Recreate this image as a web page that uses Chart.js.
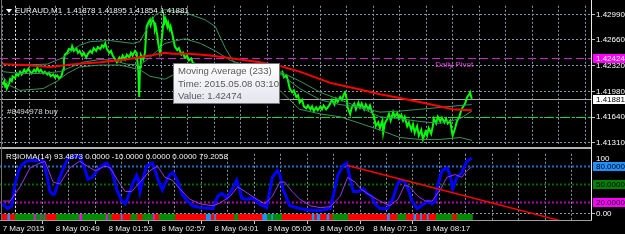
<!DOCTYPE html>
<html>
<head>
<meta charset="utf-8">
<title>EURAUD,M1</title>
<script src="https://cdn.jsdelivr.net/npm/chart.js@4.4.1/dist/chart.umd.min.js"></script>
<style>
  html, body { margin: 0; padding: 0; background: #fff; }
  #terminal { position: relative; width: 625px; height: 234px; background: #000; overflow: hidden;
              font-family: "Liberation Sans", Arial, sans-serif; }
  canvas { position: absolute; left: 0; }
  #priceCanvas { top: 0; }
  #rsiCanvas { top: 148px; }
  .caption { position: absolute; color: #f2f2f2; font-size: 8px; line-height: 9px; white-space: pre; }
  #symbolCaption { left: 15px; top: 6px; }
  #rsiCaption { left: 6px; top: 152px; }
  .arrow { position: absolute; left: 6px; top: 9px; width: 0; height: 0;
           border-left: 3px solid transparent; border-right: 3px solid transparent; border-top: 4px solid #fff; }
  .separator { position: absolute; left: 0; top: 147px; width: 592px; height: 2px; background: #b4b4b4; }
  .frameRight { position: absolute; left: 591px; top: 0; width: 1px; height: 221px; background: #e8e8e8; }
  .frameLeft { position: absolute; left: 1px; top: 0; width: 1px; height: 221px; background: #6e6e6e; }
  .frameBottom { position: absolute; left: 0; top: 220px; width: 592px; height: 1px; background: #a0a0a0; }
  #hint { position: absolute; left: 173px; top: 63px; width: 107px; height: 41px; box-sizing: border-box;
          padding: 1px 0 0 4px; border: 1px solid #767676; color: #585858;
          background: linear-gradient(#ffffff, #e4e5ee); box-shadow: 2px 2px 2px rgba(0,0,0,0.4);
          font-size: 9.6px; line-height: 12.5px; white-space: pre; }
</style>
</head>
<body>
<div id="terminal">
  <canvas id="priceCanvas" width="625" height="150"></canvas>
  <canvas id="rsiCanvas" width="625" height="86"></canvas>
  <div class="separator"></div>
  <div class="frameLeft"></div>
  <div class="frameRight"></div>
  <div class="frameBottom"></div>
  <div class="arrow"></div>
  <div class="caption" id="symbolCaption">EURAUD,M1  1.41878 1.41895 1.41854 1.41881</div>
  <div class="caption" id="rsiCaption">RSIOMA(14) 93.4873 0.0000 -10.0000 0.0000 0.0000 79.2058</div>
  <div id="hint">Moving Average (233)
Time: 2015.05.08 03:10
Value: 1.42474</div>
</div>

<script>
// time axis: minutes from 8 May 2015 00:00, M1 bars
const gridTimes = [-15, 17, 49, 81, 113, 145, 177, 209, 241, 273, 305, 337, 369, 401, 433, 465, 497, 529, 561, 593, 625, 657, 689];
const timeLabels = ['7 May 2015', '', '8 May 00:49', '', '8 May 01:53', '', '8 May 02:57', '', '8 May 04:01', '',
  '8 May 05:05', '', '8 May 06:09', '', '8 May 07:13', '', '8 May 08:17', '', '', '', '', '', ''];
const daySeparator = 0;

const priceTicks = [1.42990, 1.42660, 1.42320, 1.41980, 1.41640, 1.41310];
const dailyPivot = 1.42424;
const bidPrice = 1.41881;
const buyOrderPrice = 1.41640;
const pivotLabelTime = 508;

// close line [minute, price]
const closeLine = [
  [-15,1.42066],[-13,1.42116],[-12,1.42041],[-11,1.42091],[-10,1.42017],[-7,1.42091],[-6,1.42140],[-4,1.42116],[-3,1.42178],[0,1.42153],
  [2,1.42215],[4,1.42190],[6,1.42239],[8,1.42202],[11,1.42264],[13,1.42227],[16,1.42277],[18,1.42239],[20,1.42215],[23,1.42264],
  [25,1.42239],[27,1.42289],[29,1.42239],[31,1.42264],[34,1.42215],[36,1.42239],[39,1.42202],[41,1.42227],[43,1.42178],[46,1.42202],
  [48,1.42165],[51,1.42190],[53,1.42153],[56,1.42178],[58,1.42264],[59,1.42388],[60,1.42462],[63,1.42487],[65,1.42536],[68,1.42524],
  [69,1.42573],[71,1.42512],[74,1.42549],[76,1.42487],[78,1.42512],[81,1.42450],[83,1.42487],[86,1.42425],[88,1.42474],[91,1.42512],
  [93,1.42487],[95,1.42549],[98,1.42512],[100,1.42561],[103,1.42536],[105,1.42586],[107,1.42561],[109,1.42610],[111,1.42536],[114,1.42487],
  [116,1.42512],[118,1.42450],[121,1.42400],[123,1.42363],[126,1.42425],[128,1.42388],[130,1.42450],[133,1.42400],[135,1.42462],[138,1.42425],
  [140,1.42487],[142,1.42450],[145,1.42512],[147,1.42487],[149,1.42239],[150,1.41905],[151,1.42301],[152,1.42462],[155,1.42400],[157,1.42487],
  [158,1.42672],[159,1.42833],[161,1.42882],[163,1.42919],[164,1.42858],[166,1.42932],[168,1.42882],[169,1.42796],[170,1.42833],[172,1.42709],
  [173,1.42610],[175,1.42487],[176,1.42549],[178,1.42734],[179,1.42858],[180,1.42944],[181,1.42895],[182,1.42932],[184,1.42833],[185,1.42882],
  [187,1.42796],[188,1.42833],[190,1.42734],[192,1.42635],[193,1.42573],[196,1.42524],[198,1.42549],[201,1.42462],[203,1.42487],[205,1.42425],
  [208,1.42450],[210,1.42388],[213,1.42413],[215,1.42351],[219,1.42338],[224,1.42289],[236,1.42301],[248,1.42264],[260,1.42289],[272,1.42239],
  [284,1.42264],[296,1.42215],[308,1.42264],[318,1.42239],[320,1.42202],[323,1.42239],[325,1.42165],[328,1.42190],[330,1.42116],[332,1.42017],
  [335,1.41967],[337,1.41992],[340,1.41905],[342,1.41930],[344,1.41831],[347,1.41868],[349,1.41782],[352,1.41757],[354,1.41794],[357,1.41744],
  [359,1.41782],[361,1.41720],[364,1.41769],[366,1.41732],[369,1.41782],[371,1.41744],[373,1.41794],[376,1.41744],[378,1.41769],[381,1.41819],
  [383,1.41868],[386,1.41806],[388,1.41881],[390,1.41843],[393,1.41905],[395,1.41868],[398,1.41955],[399,1.41967],[401,1.41868],[402,1.41769],
  [405,1.41683],[407,1.41769],[410,1.41819],[412,1.41744],[415,1.41831],[417,1.41769],[419,1.41819],[422,1.41744],[424,1.41806],[427,1.41744],
  [429,1.41794],[431,1.41720],[434,1.41645],[436,1.41522],[439,1.41571],[441,1.41497],[444,1.41596],[445,1.41435],[447,1.41559],[450,1.41621],
  [452,1.41683],[454,1.41596],[457,1.41707],[459,1.41645],[462,1.41695],[464,1.41621],[467,1.41670],[469,1.41596],[471,1.41645],[474,1.41522],
  [476,1.41571],[479,1.41472],[481,1.41546],[483,1.41435],[486,1.41522],[488,1.41398],[491,1.41472],[493,1.41348],[496,1.41447],[498,1.41398],
  [500,1.41497],[503,1.41423],[505,1.41522],[506,1.41621],[509,1.41559],[511,1.41645],[514,1.41584],[516,1.41633],[519,1.41571],[521,1.41621],
  [523,1.41559],[526,1.41596],[528,1.41447],[529,1.41398],[532,1.41497],[534,1.41584],[537,1.41645],[539,1.41720],[541,1.41769],[544,1.41819],
  [546,1.41893],[549,1.41942],[550,1.41967],[552,1.41881]
];

// Moving Average (233)
const maLine = [
  [-15,1.42338],[12,1.42326],[42,1.42301],[72,1.42338],[103,1.42363],[133,1.42400],[163,1.42450],[181,1.42487],[190,1.42474],[211,1.42474],
  [236,1.42450],[272,1.42400],[296,1.42363],[320,1.42314],[344,1.42239],[381,1.42091],[417,1.42004],[441,1.41942],[465,1.41893],[493,1.41831],
  [514,1.41782],[529,1.41744],[550,1.41732],[552,1.41732]
];

// bands
const bandUpper = [
  [-15,1.42338],[6,1.42326],[39,1.42338],[58,1.42425],[78,1.42586],[91,1.42635],[115,1.42648],[142,1.42610],[151,1.42635],[159,1.42796],
  [169,1.42981],[181,1.43055],[205,1.43018],[230,1.42919],[242,1.42833],[254,1.42549],[266,1.42338],[284,1.42264],[308,1.42239],[320,1.42239],
  [344,1.42116],[369,1.41967],[393,1.41868],[417,1.41769],[441,1.41707],[465,1.41720],[489,1.41744],[514,1.41769],[538,1.41794],[552,1.41806]
];
const bandMiddle = [
  [-15,1.42239],[6,1.42215],[30,1.42215],[54,1.42239],[82,1.42363],[103,1.42400],[118,1.42388],[135,1.42338],[151,1.42326],[163,1.42425],
  [181,1.42610],[205,1.42672],[224,1.42610],[242,1.42512],[260,1.42388],[284,1.42301],[320,1.42215],[344,1.42017],[369,1.41868],[393,1.41806],
  [417,1.41769],[441,1.41645],[465,1.41621],[489,1.41584],[514,1.41559],[538,1.41621],[552,1.41720]
];
const bandLower = [
  [-15,1.42178],[-6,1.42054],[6,1.41992],[34,1.42017],[51,1.42116],[63,1.42215],[78,1.42301],[103,1.42326],[127,1.42326],[151,1.42264],
  [163,1.42178],[181,1.42140],[199,1.42239],[217,1.42338],[260,1.42215],[320,1.41992],[344,1.41744],[369,1.41683],[393,1.41645],[417,1.41559],
  [441,1.41472],[465,1.41373],[489,1.41348],[514,1.41348],[538,1.41373],[552,1.41336]
];

// RSIOMA(14) and its signal
const rsiLine = [
  [-15,16.9],[-9,9.0],[-4,13.7],[0,50.4],[4,72.6],[8,82.2],[14,88.6],[22,90.2],[34,88.6],[39,61.5],
  [42,37.6],[46,32.8],[48,34.4],[54,61.5],[60,82.2],[64,93.3],[70,96.5],[78,96.5],[84,77.4],[88,58.3],
  [93,61.5],[99,72.6],[106,82.2],[111,85.4],[117,72.6],[123,40.8],[129,21.7],[133,16.9],[136,26.5],[142,50.4],
  [147,64.7],[149,56.7],[151,37.6],[155,61.5],[159,80.6],[166,85.4],[169,74.2],[173,56.7],[178,40.8],[181,50.4],
  [187,66.3],[191,69.5],[197,53.5],[202,32.8],[208,21.7],[215,13.7],[224,10.6],[239,9.0],[245,29.7],[250,34.4],
  [256,26.5],[262,40.8],[268,56.7],[271,42.4],[274,26.5],[280,24.9],[288,26.5],[294,18.5],[304,10.6],[311,61.5],
  [317,72.6],[320,66.3],[324,40.8],[332,13.7],[344,9.0],[360,5.8],[369,5.8],[381,9.0],[384,26.5],[390,64.7],
  [396,80.6],[401,85.4],[405,58.3],[409,37.6],[415,37.6],[421,42.4],[425,34.4],[431,29.7],[435,16.9],[441,9.0],
  [450,9.0],[457,26.5],[462,48.8],[465,56.7],[471,53.5],[475,42.4],[480,21.7],[486,9.0],[496,18.5],[499,21.7],
  [504,16.9],[508,21.7],[511,48.8],[516,72.6],[522,77.4],[526,64.7],[529,42.4],[534,61.5],[540,69.5],[546,88.6],
  [552,93.49]
];
const rsiSignal = [
  [-15,21.7],[-6,21.7],[6,45.6],[18,77.4],[30,85.4],[36,88.6],[46,53.5],[54,50.4],[66,77.4],[78,88.6],
  [91,77.4],[97,72.6],[109,80.6],[115,77.4],[124,56.7],[133,37.6],[141,37.6],[151,53.5],[163,72.6],[172,80.6],
  [181,61.5],[190,56.7],[199,42.4],[211,24.9],[224,16.9],[239,13.7],[248,18.5],[260,29.7],[269,45.6],[278,37.6],
  [290,26.5],[302,16.9],[311,29.7],[320,53.5],[326,53.5],[335,37.6],[344,24.9],[357,13.7],[369,10.6],[381,12.2],
  [393,29.7],[402,61.5],[411,53.5],[419,40.8],[431,29.7],[441,21.7],[453,13.7],[463,24.9],[471,48.8],[477,45.6],
  [487,29.7],[496,21.7],[504,21.7],[514,40.8],[522,61.5],[532,66.3],[540,61.5],[546,72.6],[552,79.21]
];
const rsiTrendline = [[401, 81.7], [659, -11.3]];
const rsiLevels = [80, 50, 20];

// colour strip under the RSI: runs of [first minute, state]
const histogramValue = -10;
const histRuns = [
  [-15,'R'],[-8,'B'],[-5,'R'],[1,'G'],[24,'M'],[26,'G'],[32,'M'],[33,'G'],[36,'M'],[37,'G'],
  [39,'R'],[51,'G'],[79,'M'],[82,'G'],[111,'M'],[113,'G'],[118,'R'],[129,'B'],[131,'R'],[141,'G'],
  [149,'R'],[155,'G'],[168,'M'],[170,'R'],[175,'G'],[195,'R'],[232,'B'],[238,'R'],[242,'B'],[244,'R'],
  [266,'G'],[271,'R'],[300,'B'],[306,'G'],[311,'B'],[313,'G'],[324,'R'],[360,'B'],[363,'R'],[366,'B'],
  [370,'R'],[378,'B'],[381,'R'],[385,'G'],[404,'R'],[451,'B'],[454,'R'],[463,'G'],[474,'R'],[483,'B'],
  [486,'R'],[491,'B'],[493,'R'],[499,'B'],[501,'R'],[510,'G'],[530,'R'],[535,'G']
];
const histLastMinute = 552;

const TIME_MIN = -18.25, TIME_MAX = 697.4;
const PRICE_MIN = 1.41285, PRICE_MAX = 1.43105;
const RSI_MIN = -10.2, RSI_MAX = 101.1;

const FONT_FAMILY = '"Liberation Sans", Arial, sans-serif';
const AXIS_WIDTH = 33;
const GRID_COLOR = '#8a96a2';
const histPalette = { R: '#ff0000', G: '#008c00', B: '#1e90ff', M: '#ff00ff' };
const levelColors = { 80: '#1f6fc8', 50: '#006a00', 20: '#b000b0' };
const levelBoxColors = { 80: '#1e90ff', 50: '#008000', 20: '#ff00ff' };

Chart.defaults.font.family = FONT_FAMILY;
Chart.defaults.font.size = 8;
Chart.defaults.color = '#ffffff';
Chart.defaults.animation = false;

const toPoints = pairs => pairs.map(p => ({ x: p[0], y: p[1] }));

function lineSet(label, pairs, color, width, order) {
  return { type: 'line', label, data: toPoints(pairs), borderColor: color, borderWidth: width,
           pointRadius: 0, tension: 0, fill: false, order };
}

function hLine(ctx, x0, x1, y, color, width, dash) {
  ctx.save();
  ctx.strokeStyle = color;
  ctx.lineWidth = width;
  ctx.setLineDash(dash || []);
  ctx.beginPath();
  ctx.moveTo(x0, Math.round(y) + 0.5);
  ctx.lineTo(x1, Math.round(y) + 0.5);
  ctx.stroke();
  ctx.restore();
}

function vLine(ctx, x, y0, y1, color, dash) {
  ctx.save();
  ctx.strokeStyle = color;
  ctx.lineWidth = 1;
  ctx.setLineDash(dash || []);
  ctx.beginPath();
  ctx.moveTo(Math.round(x) + 0.5, y0);
  ctx.lineTo(Math.round(x) + 0.5, y1);
  ctx.stroke();
  ctx.restore();
}

function axisBox(ctx, area, y, text, bg, fg) {
  ctx.save();
  ctx.fillStyle = bg;
  ctx.fillRect(area.right + 1, Math.round(y) - 4, AXIS_WIDTH - 1, 9);
  ctx.fillStyle = fg;
  ctx.font = '8px ' + FONT_FAMILY;
  ctx.textAlign = 'left';
  ctx.textBaseline = 'middle';
  ctx.fillText(text, area.right + 4, Math.round(y) + 0.5);
  ctx.restore();
}

function timeScale(showLabels) {
  return {
    type: 'linear', min: TIME_MIN, max: TIME_MAX, offset: false,
    afterBuildTicks: s => { s.ticks = gridTimes.map(v => ({ value: v })); },
    afterFit: s => { s.height = showLabels ? 14 : 0; },
    ticks: {
      display: showLabels, autoSkip: false, maxRotation: 0, minRotation: 0, align: 'start', padding: 0,
      color: '#e8e8e8',
      callback: (v, i) => timeLabels[i]
    },
    grid: {
      color: GRID_COLOR, drawTicks: showLabels, tickLength: 4,
      tickColor: c => (c.tick && c.tick.label) ? '#c8c8c8' : 'rgba(0,0,0,0)'
    },
    border: { display: false, dash: [2, 2] }
  };
}

// ---------------- price window ----------------
const priceDecor = {
  id: 'priceDecor',
  beforeDatasetsDraw(chart) {
    const { ctx, chartArea: a, scales: { x, y } } = chart;
    vLine(ctx, x.getPixelForValue(daySeparator), a.top, a.bottom, '#f4f4f4', [2, 2]);
    hLine(ctx, a.left, a.right, y.getPixelForValue(dailyPivot), '#d21ed2', 1, [8, 4]);
    hLine(ctx, a.left, a.right, y.getPixelForValue(bidPrice), '#a8a8a8', 1);
    hLine(ctx, a.left + 82, a.right, y.getPixelForValue(buyOrderPrice), '#00e600', 1, [8, 3, 2, 3]);
  },
  afterDraw(chart) {
    const { ctx, chartArea: a, scales: { x, y } } = chart;
    axisBox(ctx, a, y.getPixelForValue(dailyPivot), dailyPivot.toFixed(5), '#ff00ff', '#ffffff');
    axisBox(ctx, a, y.getPixelForValue(bidPrice), bidPrice.toFixed(5), '#ffffff', '#000000');
    ctx.save();
    ctx.font = '8px ' + FONT_FAMILY;
    ctx.textBaseline = 'middle';
    ctx.textAlign = 'left';
    ctx.fillStyle = '#e040e0';
    ctx.fillText('Daily Pivot', x.getPixelForValue(pivotLabelTime), y.getPixelForValue(dailyPivot) + 7);
    ctx.fillStyle = '#d8d8d8';
    ctx.fillText('#8494978 buy', a.left + 7, y.getPixelForValue(buyOrderPrice) - 5);
    ctx.restore();
  }
};

new Chart(document.getElementById('priceCanvas'), {
  type: 'line',
  data: {
    datasets: [
      lineSet('Moving Average (233)', maLine, '#ff0000', 2, 0),
      lineSet('Upper band', bandUpper, '#35935e', 1, 1),
      lineSet('Middle band', bandMiddle, '#35935e', 1, 1),
      lineSet('Lower band', bandLower, '#35935e', 1, 1),
      lineSet('EURAUD,M1', closeLine, '#00ff00', 2, 2)
    ]
  },
  options: {
    responsive: false,
    events: [],
    layout: { padding: { left: 0, right: 0, top: 0, bottom: 3 }, autoPadding: false },
    plugins: { legend: { display: false }, tooltip: { enabled: false } },
    scales: {
      x: timeScale(false),
      y: {
        position: 'right', min: PRICE_MIN, max: PRICE_MAX,
        afterBuildTicks: s => { s.ticks = priceTicks.map(v => ({ value: v })); },
        afterFit: s => { s.width = AXIS_WIDTH; },
        ticks: { padding: 1, color: '#ffffff', callback: v => v.toFixed(5) },
        grid: { color: GRID_COLOR, tickLength: 3, tickColor: '#c0c0c0' },
        border: { display: false, dash: [2, 2] }
      }
    }
  },
  plugins: [priceDecor]
});

// ---------------- RSIOMA window ----------------
const histTimes = [];
const histColors = [];
histRuns.forEach((run, i) => {
  const end = i + 1 < histRuns.length ? histRuns[i + 1][0] : histLastMinute + 1;
  for (let t = run[0]; t < end; t++) {
    histTimes.push(t);
    histColors.push(histPalette[run[1]]);
  }
});

const rsiDecor = {
  id: 'rsiDecor',
  beforeDatasetsDraw(chart) {
    const { ctx, chartArea: a, scales: { x, y } } = chart;
    vLine(ctx, x.getPixelForValue(daySeparator), a.top, a.bottom, '#f4f4f4', [2, 2]);
    rsiLevels.forEach(v => hLine(ctx, a.left, a.right, y.getPixelForValue(v), levelColors[v], 2, [2, 2]));
  },
  afterDraw(chart) {
    const { ctx, chartArea: a, scales: { y } } = chart;
    rsiLevels.forEach(v => axisBox(ctx, a, y.getPixelForValue(v), v.toFixed(4), levelBoxColors[v], '#000000'));
    ctx.save();
    ctx.font = '8px ' + FONT_FAMILY;
    ctx.fillStyle = '#ffffff';
    ctx.textAlign = 'left';
    ctx.textBaseline = 'middle';
    ctx.fillText('100', a.right + 4, y.getPixelForValue(100) + 4);
    ctx.restore();
  }
};

new Chart(document.getElementById('rsiCanvas'), {
  type: 'line',
  data: {
    datasets: [
      lineSet('Trend', rsiTrendline, '#ff0000', 1.5, 0),
      lineSet('Signal', rsiSignal, '#9a32f0', 1, 1),
      lineSet('RSIOMA(14)', rsiLine, '#0000ff', 3, 2),
      {
        type: 'bar', label: 'State', order: 3,
        data: histTimes.map(t => ({ x: t, y: histogramValue })),
        backgroundColor: histColors, borderWidth: 0, barThickness: 1.4
      }
    ]
  },
  options: {
    responsive: false,
    events: [],
    layout: { padding: { left: 0, right: 0, top: 2, bottom: 0 }, autoPadding: false },
    plugins: { legend: { display: false }, tooltip: { enabled: false } },
    scales: {
      x: timeScale(true),
      y: {
        position: 'right', min: RSI_MIN, max: RSI_MAX,
        afterBuildTicks: s => { s.ticks = [{ value: 0 }]; },
        afterFit: s => { s.width = AXIS_WIDTH; },
        ticks: { padding: 1, color: '#ffffff', callback: () => '0.00' },
        grid: { color: GRID_COLOR, tickLength: 3, tickColor: '#c0c0c0' },
        border: { display: false, dash: [2, 2] }
      }
    }
  },
  plugins: [rsiDecor]
});
</script>
</body>
</html>
